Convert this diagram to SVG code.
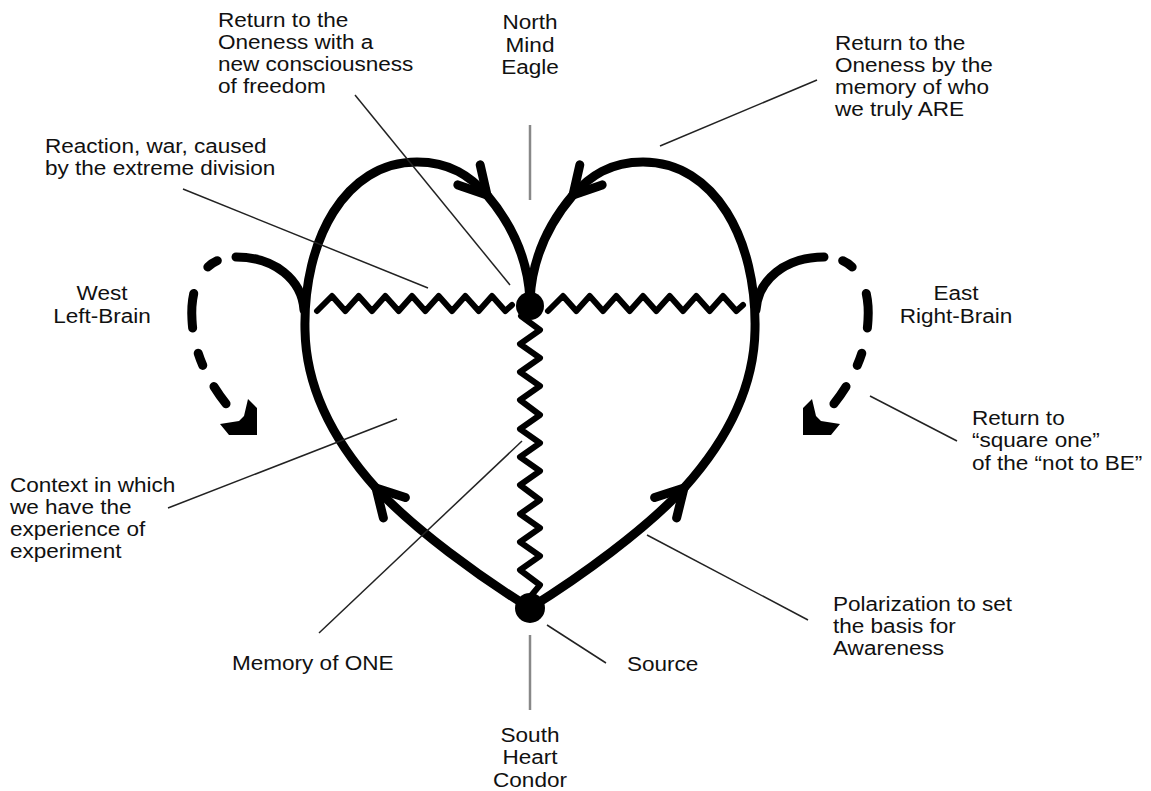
<svg xmlns="http://www.w3.org/2000/svg" width="1151" height="791" viewBox="0 0 1151 791">
<style>
.heart{fill:none;stroke:#000;stroke-width:9;stroke-linecap:round;stroke-linejoin:round}
.zig{fill:none;stroke:#000;stroke-width:6;stroke-linecap:round;stroke-linejoin:round}
.dash{fill:none;stroke:#000;stroke-width:9;stroke-linecap:round;stroke-dasharray:11.5 30.5 34.5 26 13 24 21 100;stroke-dashoffset:241.5}
.lead{fill:none;stroke:#222;stroke-width:1.5}
.axis{fill:none;stroke:#888;stroke-width:2.5}
.node{fill:#000}
.head{fill:#000}
text{font-family:"Liberation Sans",Arial,Helvetica,sans-serif;font-size:19.6px;fill:#111}
.c{text-anchor:middle}
</style>
<defs>
<marker id="chev" markerUnits="userSpaceOnUse" orient="auto" refX="0" refY="0" markerWidth="60" markerHeight="60" overflow="visible">
<path d="M -27 -15 L 0 0 L -27 15" fill="none" stroke="#000" stroke-width="9" stroke-linecap="round" stroke-linejoin="round"/>
</marker>
</defs>
<g id="connectors">
<path class="heart" d="M 530 608 C 480 577, 415 530, 376 488" marker-end="url(#chev)"/>
<path class="heart" d="M 376 488 C 340 448, 306 395, 305 330 C 303 240, 345 162, 417 162 C 450 162, 470 176, 487 195" marker-end="url(#chev)"/>
<path class="heart" d="M 487 195 C 510 222, 528 258, 530 300"/>
<path class="heart" d="M 530 608 C 580 577, 645 530, 684 488" marker-end="url(#chev)"/>
<path class="heart" d="M 684 488 C 720 448, 754 395, 755 330 C 757 240, 715 162, 643 162 C 610 162, 590 176, 573 195" marker-end="url(#chev)"/>
<path class="heart" d="M 573 195 C 550 222, 532 258, 530 300"/>
<path class="heart" d="M 304 310 C 302 280, 275 257, 236 257"/>
<path class="dash" d="M 236 257 C 200 257, 190 290, 192 320 C 194 360, 215 395, 245 425"/>
<polygon class="head" points="248,399 257,408 257,435 229,435 220,424 239,421 244,416"/>
<path class="heart" d="M 756 310 C 758 280, 785 257, 824 257"/>
<path class="dash" d="M 824 257 C 860 257, 870 290, 868 320 C 866 360, 845 395, 815 425"/>
<polygon class="head" points="812,399 803,408 803,435 831,435 840,424 821,421 816,416"/>
<path class="zig" d="M 317 311 L 332 296 L 345.3 311 L 358.7 296 L 372 311 L 385.3 296 L 398.7 311 L 412 296 L 425.3 311 L 438.7 296 L 452 311 L 465.3 296 L 478.7 311 L 492 296 L 505.3 311 L 512 305"/>
<path class="zig" d="M 548 311 L 563 296 L 576.3 311 L 589.7 296 L 603 311 L 616.3 296 L 629.7 311 L 643 296 L 656.3 311 L 669.7 296 L 683 311 L 696.3 296 L 709.7 311 L 723 296 L 736.3 311 L 743 305"/>
<path class="zig" d="M 530 306 L 521 316 L 540 330 L 520 344 L 540 358 L 520 372 L 540 386 L 520 400 L 540 415 L 520 429 L 540 443 L 520 457 L 540 471 L 520 485 L 540 500 L 520 514 L 540 528 L 520 542 L 540 556 L 520 570 L 540 585 L 530 597 L 530 608"/>
<line class="lead" x1="355" y1="95" x2="510" y2="285"/>
<line class="lead" x1="183" y1="189" x2="428" y2="288"/>
<line class="lead" x1="817" y1="80" x2="660" y2="146"/>
<line class="lead" x1="168" y1="508" x2="397" y2="419"/>
<line class="lead" x1="870" y1="396" x2="957" y2="441"/>
<line class="lead" x1="647" y1="535" x2="808" y2="620"/>
<line class="lead" x1="319" y1="633" x2="522" y2="441"/>
<line class="lead" x1="547" y1="625" x2="606" y2="663"/>
<line class="axis" x1="530" y1="125" x2="530" y2="200"/>
<line class="axis" x1="530" y1="635" x2="530" y2="710"/>
</g>
<g id="node-top"><circle class="node" cx="530" cy="306" r="14"/></g>
<g id="node-bottom"><circle class="node" cx="530" cy="608" r="15"/></g>
<g id="label-north" transform="matrix(1.15 0 0 1 530 0)"><text class="c" x="0" y="29">North</text><text class="c" x="0" y="52">Mind</text><text class="c" x="0" y="74">Eagle</text></g>
<g id="label-return-freedom" transform="matrix(1.15 0 0 1 218 0)"><text x="0" y="27">Return to the</text><text x="0" y="49">Oneness with a</text><text x="0" y="71">new consciousness</text><text x="0" y="93">of freedom</text></g>
<g id="label-reaction" transform="matrix(1.15 0 0 1 45 0)"><text x="0" y="153">Reaction, war, caused</text><text x="0" y="175">by the extreme division</text></g>
<g id="label-return-memory" transform="matrix(1.15 0 0 1 835 0)"><text x="0" y="50">Return to the</text><text x="0" y="72">Oneness by the</text><text x="0" y="94">memory of who</text><text x="0" y="116">we truly ARE</text></g>
<g id="label-west" transform="matrix(1.15 0 0 1 102 0)"><text class="c" x="0" y="300">West</text><text class="c" x="0" y="323">Left-Brain</text></g>
<g id="label-east" transform="matrix(1.15 0 0 1 956 0)"><text class="c" x="0" y="300">East</text><text class="c" x="0" y="323">Right-Brain</text></g>
<g id="label-context" transform="matrix(1.15 0 0 1 10 0)"><text x="0" y="492">Context in which</text><text x="0" y="514">we have the</text><text x="0" y="536">experience of</text><text x="0" y="558">experiment</text></g>
<g id="label-square-one" transform="matrix(1.15 0 0 1 972 0)"><text x="0" y="425">Return to</text><text x="0" y="447">“square one”</text><text x="0" y="470">of the “not to BE”</text></g>
<g id="label-polarization" transform="matrix(1.15 0 0 1 833 0)"><text x="0" y="611">Polarization to set</text><text x="0" y="633">the basis for</text><text x="0" y="655">Awareness</text></g>
<g id="label-memory" transform="matrix(1.15 0 0 1 232 0)"><text x="0" y="670">Memory of ONE</text></g>
<g id="label-source" transform="matrix(1.15 0 0 1 627 0)"><text x="0" y="671">Source</text></g>
<g id="label-south" transform="matrix(1.15 0 0 1 530 0)"><text class="c" x="0" y="742">South</text><text class="c" x="0" y="764">Heart</text><text class="c" x="0" y="787">Condor</text></g>
</svg>
